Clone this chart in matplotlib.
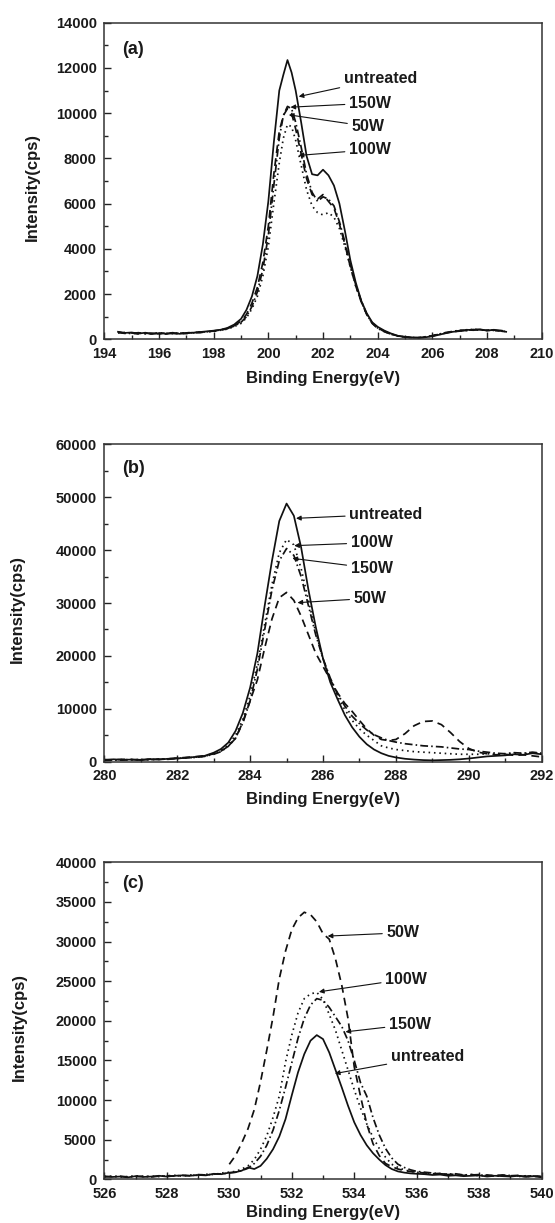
import numpy as np
import matplotlib
matplotlib.use('Agg')
import matplotlib.pyplot as plt
from matplotlib.ticker import MultipleLocator

plt.rcParams['font.family'] = ['Liberation Sans', 'DejaVu Sans']
plt.rcParams['font.weight'] = 'bold'

nan = np.nan

# ---- S 2p region -------------------------------------------------------
energy_s = [194.5, 194.75, 195.0, 195.25, 195.5, 195.75, 196.0, 196.25, 196.5, 196.75,
            197.0, 197.25, 197.5, 197.75, 198.0, 198.25, 198.5, 198.75,
            199.0, 199.2, 199.4, 199.6, 199.8, 200.0, 200.2, 200.4, 200.55, 200.7, 200.85,
            201.0, 201.2, 201.4, 201.6, 201.8, 202.0, 202.2, 202.4, 202.6, 202.8,
            203.0, 203.2, 203.4, 203.6, 203.8, 204.0,
            204.25, 204.5, 204.75, 205.0, 205.25, 205.5, 205.75, 206.0, 206.25, 206.5,
            206.75, 207.0, 207.25, 207.5, 207.75, 208.0, 208.25, 208.5, 208.7]
s_untreated = [330, 280, 300, 250, 290, 230, 270, 250, 290, 240,
               270, 290, 320, 350, 380, 420, 500, 650,
               900, 1300, 1900, 2800, 4200, 6100, 8700, 11000, 11700, 12350, 11800,
               11000, 9600, 8100, 7300, 7250, 7500, 7250, 6800, 6000, 4800,
               3500, 2500, 1700, 1150, 750, 550,
               380, 250, 150, 110, 80, 60, 90, 130, 200, 270,
               330, 360, 420, 400, 440, 380, 420, 370, 330]
s_50w = [300, 260, 280, 230, 270, 250, 240, 280, 260, 230,
         280, 300, 290, 340, 360, 400, 470, 600,
         800, 1100, 1600, 2300, 3400, 5000, 7300, 9200, 9900, 10200, 10000,
         9300, 8200, 7100, 6400, 6200, 6400, 6100, 5800, 5100, 4200,
         3200, 2350, 1650, 1100, 720, 500,
         350, 230, 140, 100, 70, 60, 100, 150, 220, 280,
         340, 380, 400, 430, 410, 400, 380, 390, 350]
s_100w = [280, 300, 250, 270, 260, 240, 290, 260, 250, 270,
          290, 280, 330, 320, 350, 400, 450, 560,
          700, 950, 1350, 1900, 2800, 4100, 6000, 7800, 8900, 9500, 9400,
          8800, 7700, 6600, 5900, 5600, 5500, 5600, 5400, 4900, 4100,
          3200, 2350, 1650, 1100, 720, 500,
          340, 220, 140, 100, 80, 70, 100, 150, 210, 290,
          330, 370, 400, 420, 400, 410, 390, 370, 340]
s_150w = [320, 270, 260, 290, 240, 270, 260, 230, 270, 280,
          250, 300, 310, 330, 370, 410, 480, 580,
          750, 1000, 1450, 2100, 3100, 4600, 6800, 8900, 9900, 10300, 10200,
          9600, 8500, 7300, 6500, 6100, 6300, 6200, 5900, 5200, 4300,
          3300, 2400, 1700, 1100, 700, 480,
          330, 220, 150, 90, 70, 80, 110, 160, 230, 300,
          350, 400, 380, 450, 420, 390, 410, 360, 340]

# ---- C 1s region -------------------------------------------------------
energy_c = [280.0, 280.25, 280.5, 280.75, 281.0, 281.25, 281.5, 281.75, 282.0, 282.25,
            282.5, 282.75, 283.0,
            283.2, 283.4, 283.6, 283.8, 284.0, 284.2, 284.4, 284.6, 284.8, 285.0,
            285.2, 285.4, 285.6, 285.8, 286.0, 286.2, 286.4, 286.6, 286.8, 287.0,
            287.2, 287.4, 287.6, 287.8, 288.0,
            288.25, 288.5, 288.75, 289.0, 289.25, 289.5, 289.75, 290.0, 290.25, 290.5,
            290.75, 291.0, 291.25, 291.5, 291.75, 292.0]
c_untreated = [300, 450, 350, 400, 300, 450, 400, 550, 600, 750,
               900, 1100, 1700,
               2400, 3600, 5800, 9200, 14000, 20500, 29500, 38000, 45500, 48800,
               46500, 40500, 32500, 25500, 19500, 15000, 11800, 8800, 6500, 4700,
               3300, 2300, 1600, 1100, 800,
               550, 400, 300, 250, 300, 350, 450, 600, 800, 1000,
               1100, 1200, 1400, 1300, 1600, 1400]
c_50w = [400, 350, 450, 400, 350, 500, 450, 550, 700, 800,
         950, 1100, 1500,
         2000, 2900, 4400, 7500, 11500, 15500, 21500, 27000, 31000, 32000,
         30500, 27500, 24000, 20500, 18000, 15500, 13000, 11000, 9500, 7800,
         6200, 5000, 4200, 4000, 4200,
         5300, 6800, 7600, 7700, 7000, 5500, 3800, 2500, 1800, 1500,
         1300, 1400, 1200, 1300, 1100, 900]
c_100w = [350, 300, 400, 350, 420, 380, 450, 500, 650, 700,
          850, 1000, 1500,
          2100, 3200, 5000, 8000, 12500, 18500, 26000, 33500, 39500, 42000,
          41000, 36500, 30500, 24500, 19500, 15500, 12300, 9800, 7800, 6200,
          5000, 4000, 3000, 2600, 2300,
          2100, 1900, 1800, 1700, 1600, 1500, 1400, 1400, 1400, 1500,
          1400, 1500, 1600, 1500, 1700, 1500]
c_150w = [250, 350, 300, 400, 350, 400, 500, 450, 600, 750,
          800, 1000, 1400,
          1900, 2900, 4500, 7300, 11500, 17500, 25000, 32500, 38000, 40300,
          39000, 35000, 29500, 24000, 19500, 15800, 12800, 10500, 8600, 7200,
          6000, 5100, 4500, 4000, 3700,
          3400, 3200, 3000, 2900, 2800, 2600, 2400, 2300, 2000, 1800,
          1600, 1500, 1700, 1600, 1800, 1600]

# ---- O 1s region -------------------------------------------------------
energy_o = [526.0, 526.25, 526.5, 526.75, 527.0, 527.25, 527.5, 527.75, 528.0, 528.25,
            528.5, 528.75, 529.0, 529.25, 529.5, 529.75, 530.0,
            530.2, 530.4, 530.6, 530.8, 531.0, 531.2, 531.4, 531.6, 531.8, 532.0,
            532.2, 532.4, 532.6, 532.8, 533.0, 533.2, 533.4, 533.6, 533.8, 534.0,
            534.2, 534.4, 534.6, 534.8, 535.0, 535.2, 535.4, 535.6, 535.8, 536.0,
            536.25, 536.5, 536.75, 537.0, 537.25, 537.5, 537.75, 538.0, 538.25, 538.5,
            538.75, 539.0, 539.25, 539.5, 539.75, 540.0]
o_untreated = [400, 300, 350, 250, 400, 300, 350, 450, 350, 450,
               500, 450, 550, 500, 700, 650, 850,
               900, 1100, 1500, 1300, 1700, 2600, 3800, 5400, 7600, 10600,
               13500, 15800, 17500, 18200, 17700, 16000, 13800, 11600, 9300, 7200,
               5600, 4300, 3300, 2500, 1800, 1300, 1000, 850, 750, 700,
               650, 550, 600, 450, 500, 400, 450, 500, 350, 450,
               400, 350, 450, 300, 400, 250]
o_50w = [nan, nan, nan, nan, nan, nan, nan, nan, nan, nan,
         nan, nan, nan, nan, nan, nan, 1900,
         3000, 4600, 6400, 8800, 12300, 16300, 20500, 25300, 28800, 31500,
         33000, 33700, 33400, 32500, 31000, 30300, 27800, 24500, 20300, 14200,
         10500, 7000, 4500, 3000, 2000, 1600, 1300, 1100, 1000, 900,
         800, 700, 750, 600, 650, 500, 550, 600, 450, 500,
         550, 450, 500, 400, 450, 350]
o_100w = [350, 400, 300, 350, 450, 350, 400, 350, 450, 500,
          400, 550, 500, 650, 600, 800, 900,
          1000, 1300, 1700, 2500, 3800, 5500, 7800, 10500, 14800, 18200,
          21000, 22800, 23400, 23600, 22700, 20800, 18800, 16300, 13800, 11300,
          9000, 7000, 5300, 3900, 2800, 1900, 1500, 1200, 1000, 900,
          800, 700, 650, 600, 550, 500, 600, 450, 500, 400,
          450, 500, 350, 450, 400, 300]
o_150w = [300, 350, 400, 300, 350, 400, 300, 400, 450, 400,
          500, 450, 600, 550, 650, 700, 800,
          900, 1100, 1400, 2000, 2900, 4300, 6200, 8700, 11600, 14700,
          17800, 20300, 22000, 22800, 22600, 21700, 20500, 19300, 17500, 15000,
          12200, 10500, 7800, 5600, 3900, 2700, 1900, 1500, 1200, 1000,
          900, 800, 700, 650, 700, 550, 600, 500, 550, 450,
          500, 400, 450, 350, 400, 350]

# line style per treatment
styles = {
    'untreated': dict(linestyle='-'),
    '50W': dict(dashes=(4.5, 3)),
    '100W': dict(dashes=(0.9, 2.2)),
    '150W': dict(dashes=(4.5, 1.8, 0.9, 1.8)),
}

panels = [
    dict(tag='(a)', energy=energy_s,
         series={'untreated': s_untreated, '50W': s_50w, '100W': s_100w, '150W': s_150w},
         xlim=(194, 210), ylim=(0, 14000), ymajor=2000,
         labels=[('untreated', (201.11, 10735), (202.76, 11515)),
                 ('150W', (200.81, 10265), (202.95, 10441)),
                 ('50W', (200.75, 9926), (203.04, 9412)),
                 ('100W', (201.11, 8132), (202.95, 8382))],
         rect=[0.188, 0.7226, 0.788, 0.2588], ylab_x=-0.165, xlab_y=-0.125, tag_y=0.916),
    dict(tag='(b)', energy=energy_c,
         series={'untreated': c_untreated, '50W': c_50w, '100W': c_100w, '150W': c_150w},
         xlim=(280, 292), ylim=(0, 60000), ymajor=10000,
         labels=[('untreated', (285.26, 46008), (286.72, 46765)),
                 ('100W', (285.21, 40840), (286.76, 41408)),
                 ('150W', (285.16, 38445), (286.76, 36555)),
                 ('50W', (285.30, 30063), (286.84, 30882))],
         rect=[0.188, 0.3772, 0.788, 0.2595], ylab_x=-0.198, xlab_y=-0.12, tag_y=0.924),
    dict(tag='(c)', energy=energy_o,
         series={'untreated': o_untreated, '50W': o_50w, '100W': o_100w, '150W': o_150w},
         xlim=(526, 540), ylim=(0, 40000), ymajor=5000,
         labels=[('50W', (533.15, 30695), (535.03, 31116)),
                 ('100W', (532.87, 23663), (534.99, 25263)),
                 ('150W', (533.72, 18610), (535.11, 19537)),
                 ('untreated', (533.38, 13347), (535.17, 15453))],
         rect=[0.188, 0.0357, 0.788, 0.2592], ylab_x=-0.195, xlab_y=-0.105, tag_y=0.934),
]

fig = plt.figure(figsize=(5.55, 12.23), dpi=100)

for p in panels:
    ax = fig.add_axes(p['rect'])
    for name, vals in p['series'].items():
        assert len(vals) == len(p['energy']), (p['tag'], name)
        ax.plot(p['energy'], vals, color='#111111', lw=1.25, **styles[name])

    ax.set_xlim(*p['xlim'])
    ax.set_ylim(*p['ylim'])
    ax.xaxis.set_major_locator(MultipleLocator(2))
    ax.xaxis.set_minor_locator(MultipleLocator(1))
    ax.yaxis.set_major_locator(MultipleLocator(p['ymajor']))
    ax.yaxis.set_minor_locator(MultipleLocator(p['ymajor'] / 2))
    ax.tick_params(which='both', direction='in', top=False, right=False,
                   width=1.0, color='#222222', labelsize=10.5, labelcolor='#1a1a1a')
    ax.tick_params(which='major', length=5, pad=5.5)
    ax.tick_params(which='minor', length=3)
    for sp in ax.spines.values():
        sp.set_color('#333333')
        sp.set_linewidth(1.1)

    ax.set_xlabel('Binding Energy(eV)', fontsize=12, fontweight='bold', color='#1a1a1a')
    ax.set_ylabel('Intensity(cps)', fontsize=12, fontweight='bold', color='#1a1a1a')
    ax.xaxis.set_label_coords(0.5, p['xlab_y'])
    ax.xaxis.label.set_va('center')
    ax.yaxis.set_label_coords(p['ylab_x'], 0.48)
    ax.yaxis.label.set_va('center')

    ax.text(0.04, p['tag_y'], p['tag'], transform=ax.transAxes, fontsize=13,
            fontweight='bold', ha='left', va='center', color='#1a1a1a')

    for text, tip, pos in p['labels']:
        ax.annotate(text, xy=tip, xytext=pos, fontsize=11.5, fontweight='bold',
                    ha='left', va='center', color='#1a1a1a',
                    arrowprops=dict(arrowstyle='-|>', color='#111111', lw=0.8,
                                    mutation_scale=7, shrinkA=1, shrinkB=0))

fig.savefig('out.png', dpi=100)
